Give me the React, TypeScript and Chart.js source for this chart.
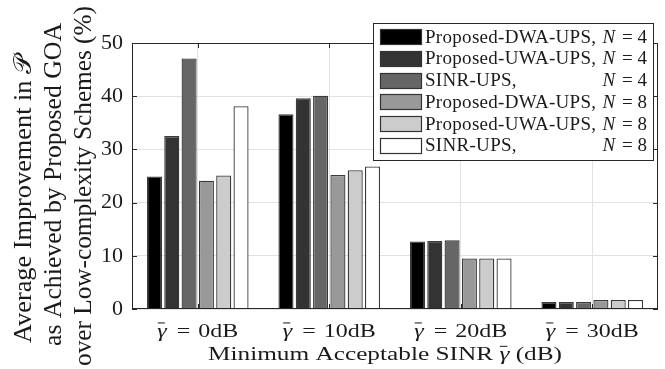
import React, { useEffect, useRef } from 'react';
import { Chart, registerables } from 'chart.js';
Chart.register(...registerables);

const categories = ['0dB', '10dB', '20dB', '30dB'];
const seriesNames = ['Proposed-DWA-UPS,', 'Proposed-UWA-UPS,', 'SINR-UPS,', 'Proposed-DWA-UPS,', 'Proposed-UWA-UPS,', 'SINR-UPS,'];
const seriesN = [4, 4, 4, 8, 8, 8];
const dwaN4 = [24.9, 36.6, 12.7, 1.3];
const uwaN4 = [32.5, 39.6, 12.8, 1.3];
const sinrN4 = [47.1, 40.1, 12.9, 1.3];
const dwaN8 = [24.1, 25.2, 9.5, 1.7];
const uwaN8 = [25.1, 26.1, 9.5, 1.7];
const sinrN8 = [38.1, 26.8, 9.5, 1.7];
const seriesValues = [dwaN4, uwaN4, sinrN4, dwaN8, uwaN8, sinrN8];
const fills = ['#000000', '#333333', '#666666', '#999999', '#cccccc', '#ffffff'];
const yTickValues = [0, 10, 20, 30, 40, 50];
const xTitleHead = 'Minimum Acceptable SINR ';
const xTitleTail = ' (dB)';
const yTitleLines = ['Average Improvement in 𝒫', 'as Achieved by Proposed GOA', 'over Low-complexity Schemes (%)'];

const FONT = '"Liberation Serif", "Times New Roman", serif';
const TEXT = '#1a1a1a';

function measure(ctx: any, text: string, font: string, sx: number) {
  ctx.font = font;
  return ctx.measureText(text).width * sx;
}

function drawScaled(ctx: any, text: string, x: number, y: number, font: string, sx: number) {
  ctx.save();
  ctx.font = font;
  ctx.textAlign = 'left';
  ctx.translate(x, y);
  ctx.scale(sx, 1);
  ctx.fillText(text, 0, 0);
  ctx.restore();
  return measure(ctx, text, font, sx);
}

// italic gamma with a bar over it; returns drawn width
function drawGammaBar(ctx: any, x: number, y: number, size: number, sx: number) {
  const font = `italic ${size}px ${FONT}`;
  const w = drawScaled(ctx, 'γ', x, y, font, sx);
  ctx.save();
  ctx.lineWidth = Math.max(1, size * 0.055);
  ctx.strokeStyle = TEXT;
  ctx.beginPath();
  const by = y - size * 0.76;
  ctx.moveTo(x + w * 0.05, by);
  ctx.lineTo(x + w * 0.8, by);
  ctx.stroke();
  ctx.restore();
  return w;
}

const decorPlugin = {
  id: 'decor',
  afterDraw(chart: any) {
    const { ctx, chartArea } = chart;
    const { left, right, top, bottom } = chartArea;
    const xs = chart.scales.x;
    const ys = chart.scales.y;
    ctx.save();
    // axes box
    ctx.strokeStyle = '#262626';
    ctx.lineWidth = 1;
    ctx.strokeRect(Math.round(left) + 0.5, Math.round(top) + 0.5, Math.round(right - left) - 1, Math.round(bottom - top) - 1);
    // inward ticks
    ctx.beginPath();
    yTickValues.forEach((v) => {
      const y = Math.round(ys.getPixelForValue(v)) + 0.5;
      ctx.moveTo(left, y); ctx.lineTo(left + 5, y);
      ctx.moveTo(right, y); ctx.lineTo(right - 5, y);
    });
    categories.forEach((_, i) => {
      const x = Math.round(xs.getPixelForValue(i)) + 0.5;
      ctx.moveTo(x, top); ctx.lineTo(x, top + 5);
      ctx.moveTo(x, bottom); ctx.lineTo(x, bottom - 5);
    });
    ctx.stroke();

    ctx.fillStyle = TEXT;
    ctx.textBaseline = 'alphabetic';

    // x tick labels: gamma-bar = value
    {
      const ts = 18.5;
      const rf = `${ts}px ${FONT}`;
      const sx = 40 / measure(ctx, categories[0], rf, 1);
      const gw = measure(ctx, 'γ', `italic ${ts}px ${FONT}`, sx);
      const ew = measure(ctx, '=', rf, sx);
      categories.forEach((lab, i) => {
        const vw = measure(ctx, lab, rf, sx);
        const total = gw + 10 + ew + 8 + vw;
        const cx = xs.getPixelForValue(i);
        let x = cx - total / 2;
        drawGammaBar(ctx, x, 337, ts, sx);
        x += gw + 10;
        drawScaled(ctx, '=', x, 337, rf, sx);
        x += ew + 8;
        drawScaled(ctx, lab, x, 337, rf, sx);
      });
    }

    // x title
    {
      const size = 18;
      const rf = `${size}px ${FONT}`;
      const nat = measure(ctx, xTitleHead, rf, 1) + measure(ctx, 'γ', `italic ${size}px ${FONT}`, 1) + measure(ctx, xTitleTail, rf, 1);
      const sx = 354 / nat;
      let x = 385 - 354 / 2;
      x += drawScaled(ctx, xTitleHead, x, 360, rf, sx);
      x += drawGammaBar(ctx, x, 360, size, sx);
      drawScaled(ctx, xTitleTail, x, 360, rf, sx);
    }

    // y title (three rotated lines)
    const lineX = [31, 61, 91];
    const lineStart = [343, 346, 366];
    const lineW = [288, 323, 360];
    yTitleLines.forEach((line, i) => {
      const f = `25px ${FONT}`;
      const sx = lineW[i] / measure(ctx, line, f, 1);
      ctx.save();
      ctx.translate(lineX[i], lineStart[i]);
      ctx.rotate(-Math.PI / 2);
      drawScaled(ctx, line, 0, 0, f, sx);
      ctx.restore();
    });

    // legend
    const lx = 373, ly = 23, lw = 280, lh = 137;
    ctx.fillStyle = '#ffffff';
    ctx.fillRect(lx, ly, lw, lh);
    ctx.strokeStyle = '#262626';
    ctx.lineWidth = 1;
    ctx.strokeRect(lx + 0.5, ly + 0.5, lw, lh);
    seriesNames.forEach((name, i) => {
      const cy = 36.7 + i * 21.7;
      const base = 42.7 + i * 21.7;
      ctx.fillStyle = fills[i];
      ctx.fillRect(380, Math.round(cy - 7.5), 41, 15);
      ctx.strokeStyle = '#333333';
      ctx.lineWidth = 1.2;
      ctx.strokeRect(380.5, Math.round(cy - 7.5) + 0.5, 41, 15);
      ctx.fillStyle = TEXT;
      ctx.textAlign = 'left';
      ctx.font = `19px ${FONT}`;
      ctx.letterSpacing = '0.3px';
      ctx.fillText(name, 425, base);
      ctx.letterSpacing = '0px';
      ctx.textAlign = 'right';
      const tail = ` = ${seriesN[i]}`;
      ctx.fillText(tail, 647, base);
      const tw = ctx.measureText(tail).width;
      ctx.font = `italic 19px ${FONT}`;
      ctx.fillText('N', 645 - tw, base);
    });
    ctx.restore();
  },
};

export default function App() {
  const ref = useRef<HTMLCanvasElement>(null);
  useEffect(() => {
    document.body.style.margin = '0';
    const chart = new Chart(ref.current!, {
      type: 'bar',
      data: {
        labels: categories,
        datasets: seriesValues.map((vals, i) => ({
          label: `${seriesNames[i]} N = ${seriesN[i]}`,
          data: vals,
          backgroundColor: fills[i],
          borderColor: '#3a3a3a',
          borderWidth: 1.3,
          categoryPercentage: 0.79,
          barPercentage: 0.87,
        })),
      },
      options: {
        animation: false,
        responsive: false,
        maintainAspectRatio: false,
        layout: { padding: { left: 0, right: 7, top: 43, bottom: 0 } },
        plugins: { legend: { display: false }, tooltip: { enabled: false } },
        scales: {
          x: {
            grid: { display: true, offset: false, color: '#e2e2e2', drawTicks: false },
            border: { display: false },
            ticks: { display: false },
            afterFit: (s: any) => { s.height = 60; },
          },
          y: {
            min: 0,
            max: 50,
            grid: { color: '#e2e2e2', drawTicks: false },
            border: { display: false },
            ticks: { stepSize: 10, color: TEXT, font: { family: FONT, size: 22 }, padding: 9 },
            afterFit: (s: any) => { s.width = 132; },
          },
        },
      },
      plugins: [decorPlugin],
    });
    return () => chart.destroy();
  }, []);
  return (
    <div style={{ width: 665, height: 369, position: 'relative' }}>
      <canvas ref={ref} width={665} height={369} style={{ display: 'block' }} />
    </div>
  );
}
